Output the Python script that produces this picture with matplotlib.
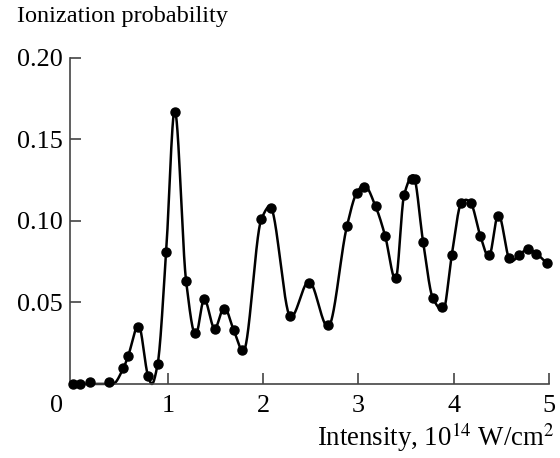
import numpy as np
import matplotlib
matplotlib.use("Agg")
import matplotlib.pyplot as plt

# Measured points (dots)
intensity = [0.00, 0.08, 0.18, 0.38, 0.53, 0.58, 0.68, 0.79, 0.89, 0.98,
             1.07, 1.19, 1.28, 1.38, 1.49, 1.59, 1.69, 1.78, 1.98, 2.08,
             2.28, 2.48, 2.68, 2.88, 2.98, 3.06, 3.18, 3.28, 3.39, 3.48,
             3.56, 3.59, 3.68, 3.78, 3.88, 3.98, 4.08, 4.18, 4.28, 4.37,
             4.47, 4.58, 4.69, 4.78, 4.87, 4.98]
probability = [0.000, 0.000, 0.001, 0.001, 0.0096, 0.017, 0.035, 0.005, 0.012, 0.081,
               0.167, 0.063, 0.031, 0.052, 0.034, 0.046, 0.033, 0.021, 0.101, 0.108,
               0.042, 0.062, 0.036, 0.097, 0.117, 0.121, 0.109, 0.091, 0.065, 0.116,
               0.126, 0.126, 0.087, 0.053, 0.047, 0.079, 0.111, 0.111, 0.091, 0.079,
               0.103, 0.077, 0.079, 0.083, 0.080, 0.074]

# Smooth theoretical curve, read at its knots
curve_x = [0.00, 0.20, 0.42, 0.53, 0.58, 0.69, 0.79, 0.83, 0.89, 0.98,
           1.07, 1.19, 1.29, 1.38, 1.49, 1.59, 1.69, 1.79, 1.98, 2.07,
           2.29, 2.48, 2.68, 2.88, 2.98, 3.06, 3.18, 3.28, 3.39, 3.48,
           3.575, 3.68, 3.78, 3.89, 3.98, 4.08, 4.13, 4.18, 4.28, 4.37,
           4.47, 4.60, 4.69, 4.78, 4.87, 4.98]
curve_y = [0.000, 0.000, 0.000, 0.0096, 0.017, 0.036, 0.005, 0.000, 0.012, 0.081,
           0.168, 0.063, 0.030, 0.052, 0.034, 0.047, 0.033, 0.020, 0.101, 0.109,
           0.041, 0.063, 0.035, 0.097, 0.117, 0.122, 0.109, 0.091, 0.064, 0.116,
           0.128, 0.087, 0.053, 0.045, 0.079, 0.111, 0.113, 0.111, 0.091, 0.078,
           0.104, 0.075, 0.079, 0.083, 0.080, 0.074]

xticks = [1, 2, 3, 4, 5]
yticks = [0.05, 0.10, 0.15, 0.20]
ytick_labels = ["0.05", "0.10", "0.15", "0.20"]


def pchip(x, y, xn):
    x = np.asarray(x, float); y = np.asarray(y, float)
    h = np.diff(x); d = np.diff(y) / h
    n = len(x); m = np.zeros(n)
    for k in range(1, n - 1):
        if d[k - 1] * d[k] > 0:
            w1 = 2 * h[k] + h[k - 1]; w2 = h[k] + 2 * h[k - 1]
            m[k] = (w1 + w2) / (w1 / d[k - 1] + w2 / d[k])
    m[0] = d[0]; m[-1] = d[-1]
    idx = np.clip(np.searchsorted(x, xn) - 1, 0, n - 2)
    t = (xn - x[idx]) / h[idx]
    h00 = 2*t**3 - 3*t**2 + 1; h10 = t**3 - 2*t**2 + t
    h01 = -2*t**3 + 3*t**2; h11 = t**3 - t**2
    return h00*y[idx] + h10*h[idx]*m[idx] + h01*y[idx+1] + h11*h[idx]*m[idx+1]


plt.rcParams['font.family'] = 'Liberation Serif'
plt.rcParams['mathtext.fontset'] = 'stix'
FS = 18.8

fig = plt.figure(figsize=(5.6, 4.58), dpi=100)
ax = fig.add_axes([0.125, 0.1616, 0.855, 0.7118])

xs = np.linspace(curve_x[0], curve_x[-1], 2000)
ax.plot(xs, pchip(curve_x, curve_y, xs), color='black', lw=1.8, clip_on=False)
ax.plot(intensity, probability, 'o', color='black', ms=6.5, clip_on=False, zorder=3)

ax.set_xlim(-0.03, 5.0)
ax.set_ylim(0, 0.20)
ax.set_xticks(xticks)
ax.set_xticklabels([str(t) for t in xticks])
ax.set_yticks(yticks)
ax.set_yticklabels(ytick_labels)
for s in ['top', 'right']:
    ax.spines[s].set_visible(False)
for s in ['left', 'bottom']:
    ax.spines[s].set_color('#444444')
    ax.spines[s].set_linewidth(1.2)
ax.tick_params(direction='in', length=8, width=1.2, color='#444444',
               labelsize=FS)
ax.tick_params(axis='x', pad=8)
ax.tick_params(axis='y', pad=5)

ax.text(-0.028, -0.035, "0", transform=ax.transAxes, ha='center', va='top', fontsize=FS)

fig.text(0.03, 0.965, "Ionization probability", ha='left', va='center', fontsize=17.5)
fig.text(0.99, 0.045, r"Intensity, 10$^{14}$ W/cm$^{2}$", ha='right', va='center', fontsize=19.3)

fig.savefig("out.png", dpi=100)
